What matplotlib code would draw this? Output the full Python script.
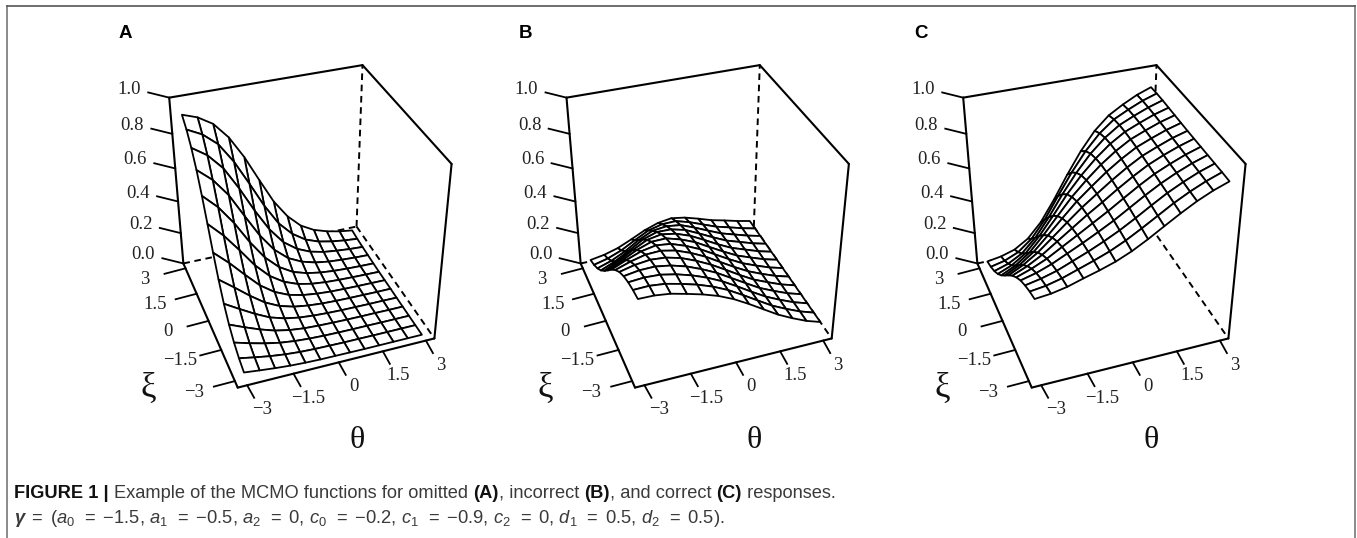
import numpy as np
import matplotlib
matplotlib.use('Agg')
import matplotlib.pyplot as plt
from matplotlib.collections import PolyCollection

# Grid of the surfaces
theta_grid = [-3, -2.5, -2, -1.5, -1, -0.5, 0, 0.5, 1, 1.5, 2, 2.5, 3]
xi_grid = [-3, -2.5, -2, -1.5, -1, -0.5, 0, 0.5, 1, 1.5, 2, 2.5, 3]

# Probabilities, one row per theta, xi going from -3 to 3
omitted = [
    [.040, .063, .097, .147, .216, .306, .413, .530, .643, .743, .822, .881, .922],
    [.029, .045, .070, .108, .162, .237, .332, .443, .560, .670, .765, .839, .893],
    [.019, .029, .046, .072, .110, .165, .240, .336, .448, .565, .675, .769, .842],
    [.011, .017, .027, .042, .065, .101, .152, .223, .314, .423, .540, .652, .750],
    [.006, .009, .015, .023, .037, .057, .089, .135, .199, .285, .389, .505, .620],
    [.003, .005, .008, .012, .020, .031, .049, .077, .117, .175, .254, .352, .465],
    [.002, .003, .004, .007, .011, .017, .027, .042, .065, .101, .152, .223, .314],
    [.001, .001, .002, .004, .006, .009, .015, .023, .037, .058, .089, .136, .201],
    [.000, .001, .001, .002, .003, .005, .008, .013, .021, .033, .051, .079, .121],
    [.000, .000, .001, .001, .002, .003, .005, .008, .012, .019, .030, .047, .074],
    [.000, .000, .000, .001, .001, .002, .003, .005, .007, .012, .019, .029, .046],
    [.000, .000, .000, .000, .001, .001, .002, .003, .004, .007, .011, .017, .027],
    [.000, .000, .000, .000, .000, .001, .001, .001, .002, .004, .006, .009, .015],
]
incorrect = [
    [.480, .473, .460, .439, .408, .364, .311, .251, .193, .140, .098, .066, .044],
    [.479, .476, .467, .453, .429, .394, .349, .293, .234, .177, .127, .088, .059],
    [.468, .467, .463, .455, .440, .416, .382, .337, .283, .225, .169, .122, .084],
    [.446, .446, .445, .441, .433, .420, .399, .368, .327, .277, .222, .169, .122],
    [.422, .421, .419, .416, .411, .402, .389, .370, .343, .306, .262, .213, .163],
    [.392, .389, .385, .380, .375, .368, .358, .345, .328, .304, .273, .235, .193],
    [.352, .348, .343, .338, .332, .326, .318, .309, .297, .282, .262, .237, .206],
    [.302, .297, .292, .286, .281, .274, .268, .260, .252, .241, .228, .212, .192],
    [.248, .243, .238, .234, .228, .223, .218, .212, .205, .198, .190, .179, .167],
    [.194, .190, .187, .183, .179, .176, .172, .167, .163, .158, .153, .146, .139],
    [.150, .148, .146, .144, .142, .139, .137, .135, .133, .130, .127, .123, .119],
    [.111, .110, .109, .108, .107, .106, .105, .104, .103, .102, .101, .099, .097],
    [.082, .081, .081, .081, .081, .081, .081, .081, .080, .080, .080, .079, .079],
]
correct = [
    [.480, .464, .442, .414, .376, .330, .276, .219, .164, .117, .080, .053, .034],
    [.489, .476, .460, .437, .407, .367, .319, .263, .206, .153, .108, .073, .048],
    [.507, .498, .485, .469, .446, .415, .375, .325, .268, .210, .155, .110, .074],
    [.534, .528, .520, .510, .495, .474, .445, .406, .357, .299, .237, .178, .127],
    [.559, .558, .555, .551, .544, .533, .516, .490, .454, .406, .347, .282, .217],
    [.588, .591, .594, .595, .594, .592, .585, .572, .550, .518, .471, .412, .342],
    [.626, .632, .637, .641, .644, .646, .646, .641, .631, .613, .583, .539, .480],
    [.673, .680, .686, .693, .698, .703, .706, .707, .704, .695, .679, .650, .607],
    [.725, .731, .738, .745, .751, .756, .761, .764, .765, .763, .755, .739, .712],
    [.776, .782, .788, .793, .799, .804, .809, .813, .815, .815, .812, .804, .787],
    [.823, .826, .830, .834, .837, .841, .844, .847, .849, .850, .849, .845, .835],
    [.862, .864, .867, .869, .871, .873, .876, .878, .880, .882, .882, .881, .876],
    [.893, .895, .896, .897, .898, .899, .900, .902, .904, .906, .908, .908, .906],
]

panel_names = ['A', 'B', 'C']
z_ticks = [0.0, 0.2, 0.4, 0.6, 0.8, 1.0]
z_tick_labels = ['0.0', '0.2', '0.4', '0.6', '0.8', '1.0']
xy_ticks = [-3, -1.5, 0, 1.5, 3]
xy_tick_labels = ['\u22123', '\u22121.5', '0', '1.5', '3']

# Box limits and the camera: where the box corners fall in panel A, in pixels
lim = 3.3
box_world = [(-lim, lim, 1), (lim, lim, 1), (lim, -lim, 1), (lim, -lim, 0),
             (-lim, -lim, 0), (-lim, lim, 0), (lim, lim, 0)]
box_pixels = [(169.3, 97.7), (362.3, 65), (451.7, 164), (434.3, 338.3),
              (237.7, 387.7), (183.3, 263.3), (356.7, 226.7)]
panel_shift = [0, 397.3, 794]
letter_x = [125, 525, 921]

rows = []
for (X, Y, Z), (u, v) in zip(box_world, box_pixels):
    rows.append([X, Y, Z, 1, 0, 0, 0, 0, -u * X, -u * Y, -u * Z, -u])
    rows.append([0, 0, 0, 0, X, Y, Z, 1, -v * X, -v * Y, -v * Z, -v])
camera = np.linalg.svd(np.array(rows))[2][-1].reshape(3, 4)
eye = np.linalg.svd(camera)[2][-1]
eye = eye[:3] / eye[3]


def project(x, y, z):
    pts = camera @ np.array([x, y, z, 1.0])
    return pts[0] / pts[2], pts[1] / pts[2]


plt.rcParams['mathtext.fontset'] = 'custom'
plt.rcParams['mathtext.rm'] = 'Liberation Sans'
plt.rcParams['mathtext.it'] = 'Liberation Sans:italic'
plt.rcParams['mathtext.bf'] = 'Liberation Sans:bold'
plt.rcParams['mathtext.bfit'] = 'Liberation Sans:italic:bold'

fig = plt.figure(figsize=(13.57, 5.38), dpi=100)
ax = fig.add_axes([0, 0, 1, 1])
ax.set_xlim(0, 1357)
ax.set_ylim(538, 0)
ax.axis('off')

# Page frame
ax.plot([7, 7], [6, 538], color='#8a8a8a', lw=1.4)
ax.plot([1355, 1355], [6, 538], color='#8a8a8a', lw=1.4)
ax.plot([7, 1355], [6, 6], color='#555555', lw=1.2)

serif = 'Liberation Serif'
for name, shift, lx, surface in zip(panel_names, panel_shift, letter_x, [omitted, incorrect, correct]):
    def px(x, y, z):
        u, v = project(x, y, z)
        return u + shift, v

    lt, bt, rt = px(-lim, lim, 1), px(lim, lim, 1), px(lim, -lim, 1)
    rb, fb, lb = px(lim, -lim, 0), px(-lim, -lim, 0), px(-lim, lim, 0)
    bb = px(lim, lim, 0)

    # Hidden edges go under the surface
    for a, b in [(lb, bb), (bb, bt), (bb, rb)]:
        ax.plot([a[0], b[0]], [a[1], b[1]], color='black', lw=1.4,
                linestyle=(0, (3.4, 2.4)), zorder=1)

    # Surface, far cells first
    cells = []
    for i in range(len(theta_grid) - 1):
        for j in range(len(xi_grid) - 1):
            corners = [(i, j), (i + 1, j), (i + 1, j + 1), (i, j + 1)]
            world = [(theta_grid[a], xi_grid[b], surface[a][b]) for a, b in corners]
            depth = np.linalg.norm(np.mean(world, axis=0) - eye)
            cells.append((depth, [px(*w) for w in world]))
    cells.sort(key=lambda c: -c[0])
    ax.add_collection(PolyCollection([c[1] for c in cells], facecolors='white',
                                     edgecolors='black', linewidths=1.3, zorder=2))

    # Solid box
    for a, b in [(lb, lt), (lt, bt), (bt, rt), (rt, rb), (rb, fb), (fb, lb)]:
        ax.plot([a[0], b[0]], [a[1], b[1]], color='black', lw=1.5,
                solid_capstyle='round', zorder=3)

    # Ticks
    for t, lab in zip(z_ticks, z_tick_labels):
        u, v = px(-lim, lim, t)
        ax.plot([u, u - 21], [v, v - 5.2], color='black', lw=1.3, zorder=3)
        ax.text(u - 40, v - 8.5, lab, family=serif, fontsize=13.5, color='#222222',
                ha='center', va='center')
    for t, lab in zip(xy_ticks, xy_tick_labels):
        u, v = px(-lim, t, 0)
        ax.plot([u, u - 21], [v, v + 5.5], color='black', lw=1.3, zorder=3)
        ax.text(u - 41, v + 11, lab, family=serif, fontsize=13.5, color='#222222',
                ha='center', va='center')
        u, v = px(t, -lim, 0)
        ax.plot([u, u + 7], [v, v + 12.5], color='black', lw=1.3, zorder=3)
        ax.text(u + 15, v + 24.5, lab, family=serif, fontsize=13.5, color='#222222',
                ha='center', va='center')

    ax.text(148 + shift, 388, '\u03be', family=serif, fontsize=25, color='#111111',
            ha='center', va='center')
    ax.text(357 + shift, 440, '\u03b8', family=serif, fontsize=23, color='#111111',
            ha='center', va='center')
    ax.text(lx, 33, name, family='Liberation Sans', fontweight='bold',
            fontsize=13.5, color='black', ha='center', va='center')

# Caption: bold and regular pieces set one after the other
renderer = fig.canvas.get_renderer()
x = 14.5
for piece, weight in [('FIGURE 1 | ', 'bold'), ('Example of the MCMO functions for omitted ', 'normal'),
                      ('(A)', 'bold'), (', incorrect ', 'normal'), ('(B)', 'bold'),
                      (', and correct ', 'normal'), ('(C)', 'bold'), (' responses.', 'normal')]:
    label = ax.text(x, 497.5, piece, family='Liberation Sans', fontweight=weight, fontsize=13.15,
                    color='#111111' if weight == 'bold' else '#3a3a3a', va='baseline')
    x = label.get_window_extent(renderer).x1

eq = r'$\,$=$\,$ '
line2 = (r'$\boldsymbol{\gamma}$ ' + eq + r'($a_0\,$ ' + eq + '\u22121.5, $a_1\\,$ ' + eq + '\u22120.5, $a_2\\,$ ' + eq + '0, '
         r'$c_0\,$ ' + eq + '\u22120.2, $c_1\\,$ ' + eq + '\u22120.9, $c_2\\,$ ' + eq + '0, $d_1\\,$ ' + eq + '0.5, $d_2\\,$ ' + eq + '0.5).')
ax.text(14.5, 523, line2, family='Liberation Sans', fontsize=13.2, color='#3a3a3a', va='baseline')

fig.savefig('out.png', dpi=100)
